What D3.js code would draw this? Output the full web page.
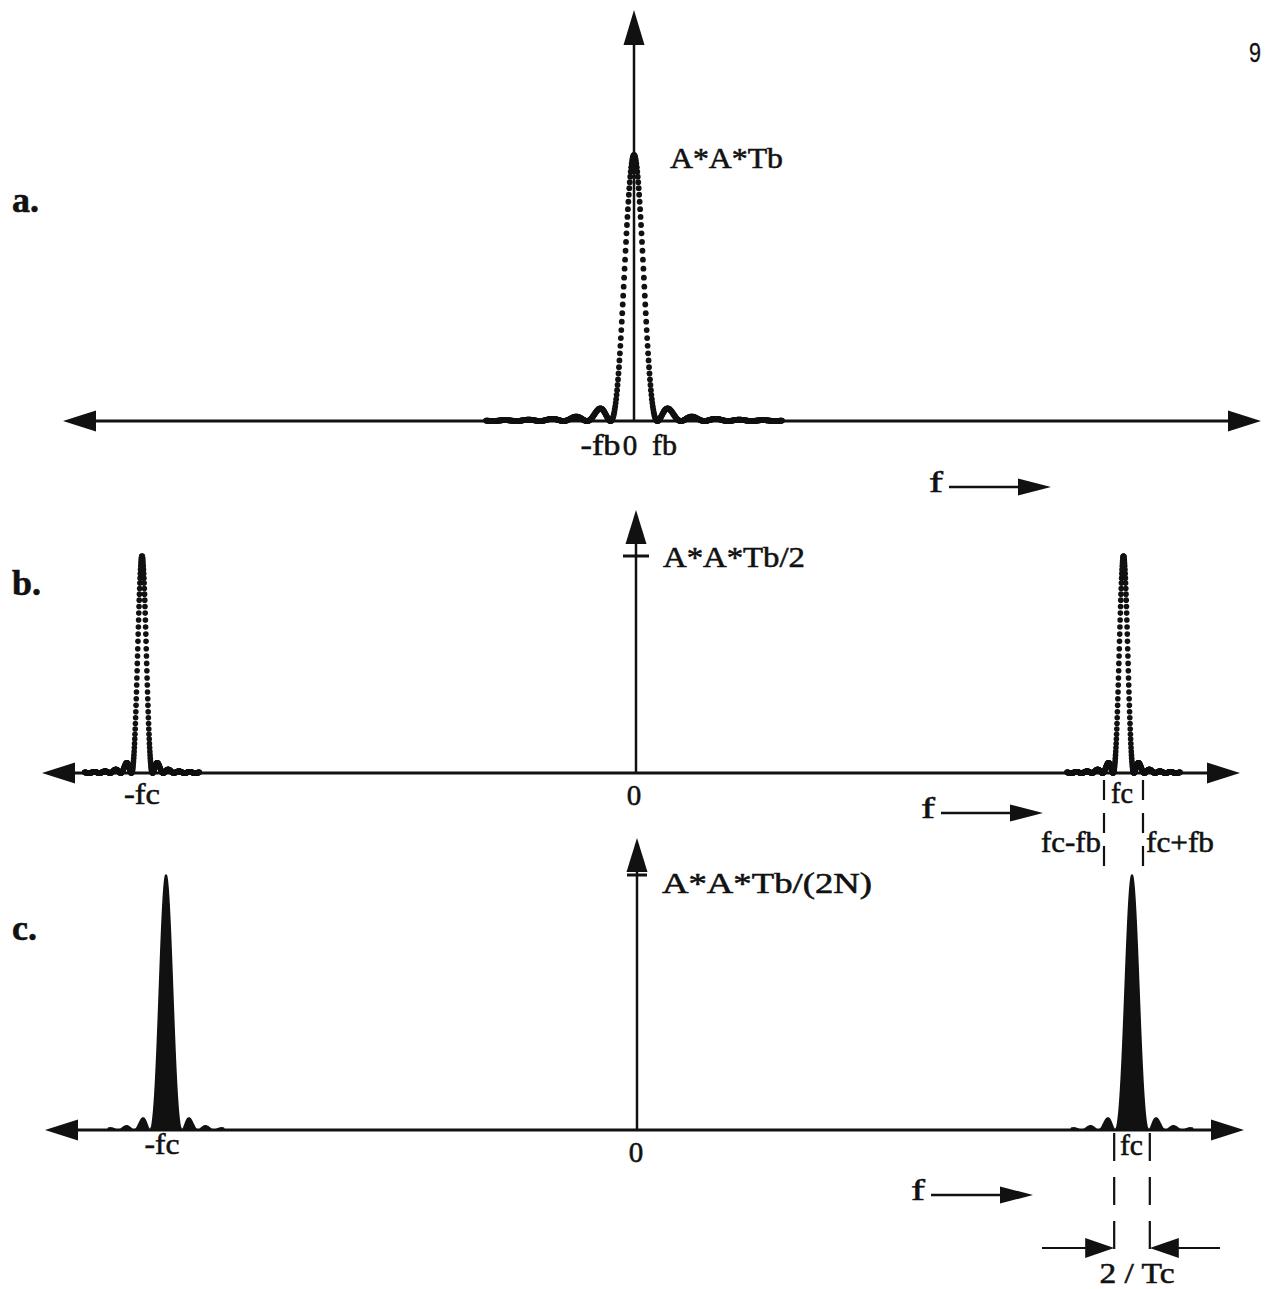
<!DOCTYPE html>
<html>
<head>
<meta charset="utf-8">
<script src="https://cdn.jsdelivr.net/npm/d3@7"></script>
<style>
  html, body { margin: 0; background: #fff; }
  svg { display: block; }
  text { font-family: "Liberation Serif", "Times New Roman", serif; fill: #111; stroke: #111; stroke-width: 0.55px; }
</style>
</head>
<body>
<svg id="fig" width="1265" height="1289"></svg>
<script>
// ---- spectrum data ----------------------------------------------------
// a. baseband spectrum, frequency in units of fb
const aLobeCenters = [0];
const aPeaks = [1];                 // A*A*Tb
const aNull = 1;                    // first null at fb
const aSpan = 6.3;                  // side lobes shown out to ±6.3 nulls
const aTickLabels = ["-fb", "0", "fb"];

// b. modulated spectrum, frequency in units of fc
const bLobeCenters = [-1, 1];
const bPeaks = [0.5, 0.5];          // A*A*Tb/2
const bNull = 0.0215;               // fb relative to fc
const bSpan = 5.4;
const bTickLabels = ["-fc", "0", "fc"];
const bEdgeLabels = ["fc-fb", "fc+fb"];
const bEdgeOffsets = [-0.04, 0.04]; // marker positions around fc

// c. spread spectrum, frequency in units of fc
const cLobeCenters = [-1, 1];
const cPeaks = [1, 1];              // A*A*Tb/(2N)
const cNull = 0.034;                // 1/Tc relative to fc
const cSpan = 3.6;
const cTickLabels = ["-fc", "0", "fc"];
const cEdgeOffsets = [-0.036, 0.036];
const cSpacingLabel = "2 / Tc";

const panelLabels = ["a.", "b.", "c."];
const peakLabels = ["A*A*Tb", "A*A*Tb/2", "A*A*Tb/(2N)"];
const freqLabel = "f";
const pageNumber = "9";
const samplesPerNull = 50;

// ---- helpers ------------------------------------------------------------
const svg = d3.select("#fig");
const INK = "#111";

const sinc2 = u => {
  if (Math.abs(u) < 1e-9) return 1;
  const s = Math.sin(Math.PI * u) / (Math.PI * u);
  return s * s;
};

// samples of one lobe group: offsets measured in null widths
function lobeSamples(center, peak, nullW, span) {
  const n = Math.round(span * samplesPerNull);
  const pts = [];
  for (let i = -n; i <= n; i++) {
    const u = i / samplesPerNull;
    pts.push({ f: center + u * nullW, v: peak * sinc2(u) });
  }
  return pts;
}

function arrowHead(g, tipX, tipY, dir, len, half) {
  // dir: "left" | "right" | "up"
  let p;
  if (dir === "right") p = [[tipX, tipY], [tipX - len, tipY - half], [tipX - len, tipY + half]];
  else if (dir === "left") p = [[tipX, tipY], [tipX + len, tipY - half], [tipX + len, tipY + half]];
  else p = [[tipX, tipY], [tipX - half, tipY + len], [tipX + half, tipY + len]];
  g.append("path").attr("d", d3.line()(p) + "Z").attr("fill", INK);
}

function hLine(g, x1, x2, y, w) {
  g.append("line").attr("x1", x1).attr("x2", x2).attr("y1", y).attr("y2", y)
    .attr("stroke", INK).attr("stroke-width", w);
}
function vLine(g, x, y1, y2, w, dash) {
  const l = g.append("line").attr("x1", x).attr("x2", x).attr("y1", y1).attr("y2", y2)
    .attr("stroke", INK).attr("stroke-width", w);
  if (dash) l.attr("stroke-dasharray", dash);
}

function label(g, x, y, txt, opt = {}) {
  const t = g.append("text").attr("x", x).attr("y", y).text(txt)
    .attr("font-size", opt.size || 28)
    .attr("text-anchor", opt.anchor || "start");
  if (opt.width) t.attr("textLength", opt.width).attr("lengthAdjust", "spacingAndGlyphs");
  if (opt.bold) t.attr("font-weight", "bold");
  if (opt.family) t.style("font-family", opt.family);
  return t;
}

function freqArrow(g, x, y) {
  label(g, x, y + 5, freqLabel, { size: 30, width: 14 });
  hLine(g, x + 20, x + 95, y, 2.5);
  arrowHead(g, x + 122, y, "right", 33, 8.5);
}

// horizontal frequency axis with arrows at both ends
function freqAxis(g, x1, x2, y) {
  hLine(g, x1 + 30, x2 - 30, y, 3);
  arrowHead(g, x1, y, "left", 33, 10.5);
  arrowHead(g, x2, y, "right", 33, 10.5);
}

// ---- page furniture --------------------------------------------------------
label(svg, 1249, 62, pageNumber, { size: 27, width: 12, family: "'Liberation Sans', Arial, sans-serif" })
  .style("stroke-width", "0.3px");
[212, 595, 940].forEach((y, i) =>
  label(svg, 12, y, panelLabels[i], { size: 36, bold: true }));

// ---- a. ------------------------------------------------------------------
{
  const g = svg.append("g");
  const x = d3.scaleLinear().domain([-aNull, 0, aNull]).range([610.5, 634, 657.5]);
  const y = d3.scaleLinear().domain([0, 1]).range([421, 155]);

  freqAxis(g, 63, 1261, y(0));

  const pts = aLobeCenters.flatMap((c, i) => lobeSamples(c, aPeaks[i], aNull, aSpan));
  g.append("g").selectAll("circle").data(pts).join("circle")
    .attr("cx", d => x(d.f)).attr("cy", d => y(d.v)).attr("r", 2.9).attr("fill", INK);

  // vertical axis
  vLine(g, x(0), y(0), 40, 2.5);
  arrowHead(g, x(0), 10, "up", 35, 10.5);

  label(g, 670, 168, peakLabels[0], { size: 29, width: 113 });
  label(g, x(-aNull) + 10, 455, aTickLabels[0], { anchor: "end", size: 29, width: 40 });
  label(g, x(0) - 4, 455, aTickLabels[1], { anchor: "middle", size: 29 });
  label(g, x(aNull) - 5.5, 455, aTickLabels[2], { size: 29, width: 25 });

  freqArrow(g, 929, 487);
}

// ---- b. ------------------------------------------------------------------
{
  const g = svg.append("g");
  const x = d3.scaleLinear().domain([-1, 0, 1]).range([142, 636, 1123.5]);
  const y = d3.scaleLinear().domain([0, 0.5]).range([773, 556]);

  freqAxis(g, 42, 1240, y(0));

  const pts = bLobeCenters.flatMap((c, i) => lobeSamples(c, bPeaks[i], bNull, bSpan));
  g.append("g").selectAll("circle").data(pts).join("circle")
    .attr("cx", d => x(d.f)).attr("cy", d => y(d.v)).attr("r", 2.8).attr("fill", INK);

  vLine(g, x(0), y(0), 540, 2.5);
  arrowHead(g, x(0), 510, "up", 34, 10.5);
  hLine(g, x(0) - 13, x(0) + 13, y(0.5), 3);
  label(g, 663, 567, peakLabels[1], { size: 29, width: 142 });

  label(g, x(-1), 804, bTickLabels[0], { anchor: "middle", size: 29, width: 36 });
  label(g, x(0) - 2, 805, bTickLabels[1], { anchor: "middle", size: 29 });
  label(g, x(1) - 1.5, 803, bTickLabels[2], { anchor: "middle", size: 29, width: 22 });

  // fc ± fb markers
  bEdgeOffsets.forEach((o, i) => {
    const xm = x(1 + o);
    vLine(g, xm, 780, 870, 2.2, "20,13");
    if (i === 0) label(g, xm - 3, 852, bEdgeLabels[0], { anchor: "end", size: 29, width: 60 });
    else label(g, xm + 3, 852, bEdgeLabels[1], { size: 29, width: 68 });
  });

  freqArrow(g, 921, 813);
}

// ---- c. ------------------------------------------------------------------
{
  const g = svg.append("g");
  const x = d3.scaleLinear().domain([-1, 0, 1]).range([166, 637, 1132]);
  const y = d3.scaleLinear().domain([0, 1]).range([1130, 875]);

  freqAxis(g, 45, 1244, y(0));

  const area = d3.area().x(d => x(d.f)).y0(y(0)).y1(d => y(d.v)).curve(d3.curveLinear);
  cLobeCenters.forEach((c, i) => {
    const pts = lobeSamples(c, cPeaks[i], cNull, cSpan);
    g.append("path").attr("d", area(pts)).attr("fill", INK)
      .attr("stroke", INK).attr("stroke-width", 1.6).attr("stroke-linejoin", "round");
  });

  vLine(g, x(0), y(0), 870, 2.5);
  arrowHead(g, x(0), 838, "up", 34, 10.5);
  hLine(g, x(0) - 10, x(0) + 10, y(1), 3);
  label(g, 662, 893, peakLabels[2], { size: 29, width: 210 });

  label(g, x(-1) - 4, 1154, cTickLabels[0], { anchor: "middle", size: 29, width: 35 });
  label(g, x(0) - 1, 1162, cTickLabels[1], { anchor: "middle", size: 29 });
  label(g, x(1) - 0.5, 1155, cTickLabels[2], { anchor: "middle", size: 29, width: 23 });

  // 2/Tc spacing markers
  const xl = x(1 + cEdgeOffsets[0]), xr = x(1 + cEdgeOffsets[1]);
  vLine(g, xl, 1133, 1250, 2.2, "28,16");
  vLine(g, xr, 1133, 1250, 2.2, "28,16");
  hLine(g, 1042, xl - 25, 1248, 2.2);
  arrowHead(g, xl, 1248, "right", 29, 10);
  hLine(g, xr + 25, 1220, 1248, 2.2);
  arrowHead(g, xr, 1248, "left", 29, 10);
  label(g, (xl + xr) / 2 + 5, 1283, cSpacingLabel, { anchor: "middle", size: 29, width: 75 });

  freqArrow(g, 911, 1195);
}
</script>
</body>
</html>
